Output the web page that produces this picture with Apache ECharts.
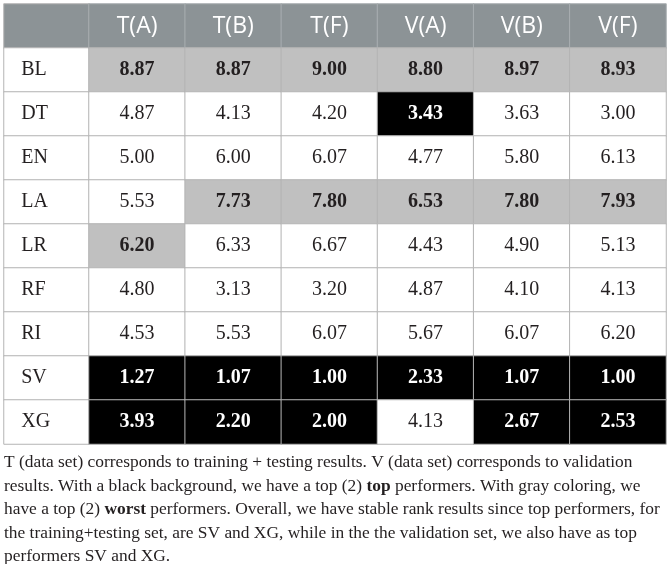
<!DOCTYPE html>
<html>
<head>
<meta charset="utf-8">
<script src="https://cdn.jsdelivr.net/npm/echarts@6/dist/echarts.min.js"></script>
<style>html,body{margin:0;padding:0;background:#fff;}#c{width:670px;height:564px;}</style>
</head>
<body>
<div id="c"></div>
<script>
// ---- data ----
const columns = ['T(A)', 'T(B)', 'T(F)', 'V(A)', 'V(B)', 'V(F)'];
const models = ['BL', 'DT', 'EN', 'LA', 'LR', 'RF', 'RI', 'SV', 'XG'];
const tA = [8.87, 4.87, 5.00, 5.53, 6.20, 4.80, 4.53, 1.27, 3.93];
const tB = [8.87, 4.13, 6.00, 7.73, 6.33, 3.13, 5.53, 1.07, 2.20];
const tF = [9.00, 4.20, 6.07, 7.80, 6.67, 3.20, 6.07, 1.00, 2.00];
const vA = [8.80, 3.43, 4.77, 6.53, 4.43, 4.87, 5.67, 2.33, 4.13];
const vB = [8.97, 3.63, 5.80, 7.80, 4.90, 4.10, 6.07, 1.07, 2.67];
const vF = [8.93, 3.00, 6.13, 7.93, 5.13, 4.13, 6.20, 1.00, 2.53];
// 'g' = gray (worst), 'b' = black (top), '' = plain
const tA_mark = ['g', '', '', '', 'g', '', '', 'b', 'b'];
const tB_mark = ['g', '', '', 'g', '', '', '', 'b', 'b'];
const tF_mark = ['g', '', '', 'g', '', '', '', 'b', 'b'];
const vA_mark = ['g', 'b', '', 'g', '', '', '', 'b', ''];
const vB_mark = ['g', '', '', 'g', '', '', '', 'b', 'b'];
const vF_mark = ['g', '', '', 'g', '', '', '', 'b', 'b'];
const captionLines = [
  'T (data set) corresponds to training + testing results. V (data set) corresponds to validation',
  'results. With a black background, we have a top (2) {b|top} performers. With gray coloring, we',
  'have a top (2) {b|worst} performers. Overall, we have stable rank results since top performers, for',
  'the training+testing set, are SV and XG, while in the the validation set, we also have as top',
  'performers SV and XG.'
];

// ---- build ----
const colValues = [tA, tB, tF, vA, vB, vF];
const colMarks = [tA_mark, tB_mark, tF_mark, vA_mark, vB_mark, vF_mark];
const rowCats = ['header'].concat(models);
const HEADER = '#8c9396', GRAY = '#c0c0c0', BLACK = '#000000', BORDER = '#b4b4b4';
const serif = '"Liberation Serif", "DejaVu Serif", serif';

const leftData = [{
  value: [0, 0, 0],
  itemStyle: { color: HEADER, borderColor: BORDER, borderWidth: 1 },
  label: { show: false }
}];
models.forEach((m, i) => {
  leftData.push({
    value: [0, i + 1, 0],
    itemStyle: { color: '#ffffff', borderColor: BORDER, borderWidth: 1 },
    label: {
      show: true, formatter: m, position: 'insideLeft', distance: 18,
      color: '#231f20', fontFamily: serif, fontSize: 20
    }
  });
});

const mainData = [];
columns.forEach((c, ci) => {
  mainData.push({
    value: [ci, 0, 0],
    itemStyle: { color: HEADER, borderColor: '#a9aeb1', borderWidth: 1 },
    label: {
      show: true, formatter: c, color: '#ffffff',
      fontFamily: '"Open Sans", "Noto Sans", sans-serif', fontSize: 23
    }
  });
  colValues[ci].forEach((v, ri) => {
    const mk = colMarks[ci][ri];
    const bg = mk === 'g' ? GRAY : (mk === 'b' ? BLACK : '#ffffff');
    mainData.push({
      value: [ci, ri + 1, v],
      itemStyle: { color: bg, borderColor: BORDER, borderWidth: 1 },
      label: {
        show: true, formatter: v.toFixed(2),
        color: mk === 'b' ? '#ffffff' : '#231f20',
        fontWeight: mk ? 'bold' : 'normal',
        fontFamily: serif, fontSize: 20
      }
    });
  });
});

const chart = echarts.init(document.getElementById('c'));
chart.setOption({
  animation: false,
  backgroundColor: '#ffffff',
  grid: [
    { left: 4, top: 4, width: 85, height: 440 },
    { left: 89, top: 4, right: 4, height: 440 }
  ],
  xAxis: [
    { gridIndex: 0, type: 'category', data: [''], show: false },
    { gridIndex: 1, type: 'category', data: columns, show: false }
  ],
  yAxis: [
    { gridIndex: 0, type: 'category', data: rowCats, inverse: true, show: false },
    { gridIndex: 1, type: 'category', data: rowCats, inverse: true, show: false }
  ],
  series: [
    { type: 'heatmap', xAxisIndex: 0, yAxisIndex: 0, data: leftData, emphasis: { disabled: true }, progressive: 0 },
    { type: 'heatmap', xAxisIndex: 1, yAxisIndex: 1, data: mainData, emphasis: { disabled: true }, progressive: 0 }
  ],
  graphic: [{
    type: 'text', left: 4, top: 451,
    style: {
      text: captionLines.join('\n'),
      fill: '#231f20', fontFamily: serif, fontSize: 17.4, lineHeight: 23.5,
      rich: {
        b: { fontWeight: 'bold', fontFamily: serif, fontSize: 17.4, lineHeight: 23.5, fill: '#231f20' }
      }
    }
  }]
});
</script>
</body>
</html>
